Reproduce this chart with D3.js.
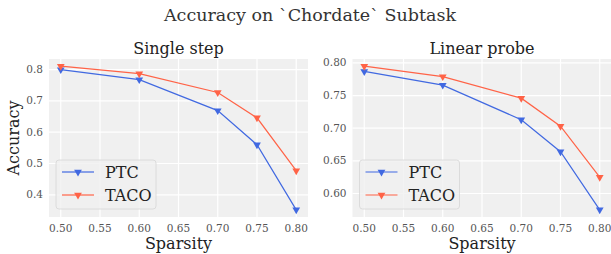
<!DOCTYPE html>
<html>
<head>
<meta charset="utf-8">
<script src="https://cdn.jsdelivr.net/npm/d3@7"></script>
<style>
  body { margin: 0; background: #fff; }
  text { font-family: "DejaVu Serif", serif; }
</style>
</head>
<body>
<div id="chart"></div>
<script>
// data
const sparsity = [0.50, 0.60, 0.70, 0.75, 0.80];
const singlePTC = [0.800, 0.768, 0.669, 0.560, 0.352];
const singleTACO = [0.811, 0.787, 0.727, 0.646, 0.477];
const probePTC = [0.787, 0.766, 0.713, 0.664, 0.575];
const probeTACO = [0.795, 0.779, 0.746, 0.703, 0.625];
const xTicks = [0.50, 0.55, 0.60, 0.65, 0.70, 0.75, 0.80];
const singleYTicks = [0.4, 0.5, 0.6, 0.7, 0.8];
const probeYTicks = [0.60, 0.65, 0.70, 0.75, 0.80];
const seriesNames = ['PTC', 'TACO'];
const seriesColors = ['#4169e1', '#ff6347'];

const W = 611, H = 254;
const svg = d3.select('#chart').append('svg')
  .attr('width', W).attr('height', H);

svg.append('text')
  .attr('x', 310).attr('y', 21)
  .attr('text-anchor', 'middle')
  .style('font-size', '17.5px')
  .style('fill', '#333')
  .text('Accuracy on `Chordate` Subtask');

// one panel, matplotlib-ish 5% margins
function panel(opts) {
  const {left, right, top, bottom, title, series, yTicks, yFmt, showYLabel} = opts;
  const all = series.flat();
  const ymin = d3.min(all), ymax = d3.max(all);
  const ypad = (ymax - ymin) * 0.05;
  const xpad = (0.80 - 0.50) * 0.05;

  const x = d3.scaleLinear().domain([0.50 - xpad, 0.80 + xpad]).range([left, right]);
  const y = d3.scaleLinear().domain([ymin - ypad, ymax + ypad]).range([bottom, top]);
  const cx = (left + right) / 2;

  const g = svg.append('g');
  g.append('rect')
    .attr('x', left).attr('y', top)
    .attr('width', right - left).attr('height', bottom - top)
    .attr('fill', '#f0f0f0');

  // grid
  g.selectAll('line.vg').data(xTicks).enter().append('line')
    .attr('x1', d => x(d)).attr('x2', d => x(d))
    .attr('y1', top).attr('y2', bottom)
    .attr('stroke', '#fff').attr('stroke-width', 1.2);
  g.selectAll('line.hg').data(yTicks).enter().append('line')
    .attr('y1', d => y(d)).attr('y2', d => y(d))
    .attr('x1', left).attr('x2', right)
    .attr('stroke', '#fff').attr('stroke-width', 1.2);

  // tick labels
  g.selectAll('text.xt').data(xTicks).enter().append('text')
    .attr('x', d => x(d)).attr('y', bottom + 15)
    .attr('text-anchor', 'middle')
    .style('font-size', '10.5px').style('fill', '#555')
    .text(d => d.toFixed(2));
  g.selectAll('text.yt').data(yTicks).enter().append('text')
    .attr('x', left - 6).attr('y', d => y(d) + 3.5)
    .attr('text-anchor', 'end')
    .style('font-size', '10.5px').style('fill', '#555')
    .text(d => d.toFixed(yFmt));

  g.append('text')
    .attr('x', cx).attr('y', top - 5)
    .attr('text-anchor', 'middle')
    .style('font-size', '16px').style('fill', '#222')
    .text(title);

  g.append('text')
    .attr('x', cx).attr('y', 249)
    .attr('text-anchor', 'middle')
    .style('font-size', '16px').style('fill', '#222')
    .text('Sparsity');

  if (showYLabel) {
    g.append('text')
      .attr('transform', `translate(19,${(top + bottom) / 2}) rotate(-90)`)
      .attr('text-anchor', 'middle')
      .style('font-size', '16px').style('fill', '#222')
      .text('Accuracy');
  }

  const line = d3.line().x((d, i) => x(sparsity[i])).y(d => y(d));
  const tri = d3.symbol().type(d3.symbolTriangle).size(26);

  series.forEach((vals, k) => {
    g.append('path').datum(vals)
      .attr('d', line)
      .attr('fill', 'none')
      .attr('stroke', seriesColors[k])
      .attr('stroke-width', 1.2);
    g.selectAll(null).data(vals).enter().append('path')
      .attr('d', tri)
      .attr('transform', (d, i) => `translate(${x(sparsity[i])},${y(d)}) rotate(180)`)
      .attr('fill', seriesColors[k]);
  });

  // legend
  const lx = left + 7, ly = 160;
  g.append('rect')
    .attr('x', lx).attr('y', ly)
    .attr('width', 100).attr('height', 49)
    .attr('rx', 3)
    .attr('fill', '#f0f0f0').attr('fill-opacity', 0.8)
    .attr('stroke', '#d6d6d6').attr('stroke-width', 0.8);
  seriesNames.forEach((name, k) => {
    const yy = ly + 12 + k * 23;
    g.append('line')
      .attr('x1', lx + 6).attr('x2', lx + 38)
      .attr('y1', yy).attr('y2', yy)
      .attr('stroke', seriesColors[k]).attr('stroke-width', 1.2);
    g.append('path')
      .attr('d', tri)
      .attr('transform', `translate(${lx + 22},${yy}) rotate(180)`)
      .attr('fill', seriesColors[k]);
    g.append('text')
      .attr('x', lx + 49).attr('y', yy + 5.5)
      .style('font-size', '16px').style('fill', '#222')
      .text(name);
  });
}

panel({left: 49, right: 308, top: 59, bottom: 217, title: 'Single step',
  series: [singlePTC, singleTACO], yTicks: singleYTicks, yFmt: 1, showYLabel: true});
panel({left: 352.5, right: 611.5, top: 59, bottom: 217, title: 'Linear probe',
  series: [probePTC, probeTACO], yTicks: probeYTicks, yFmt: 2, showYLabel: false});
</script>
</body>
</html>
